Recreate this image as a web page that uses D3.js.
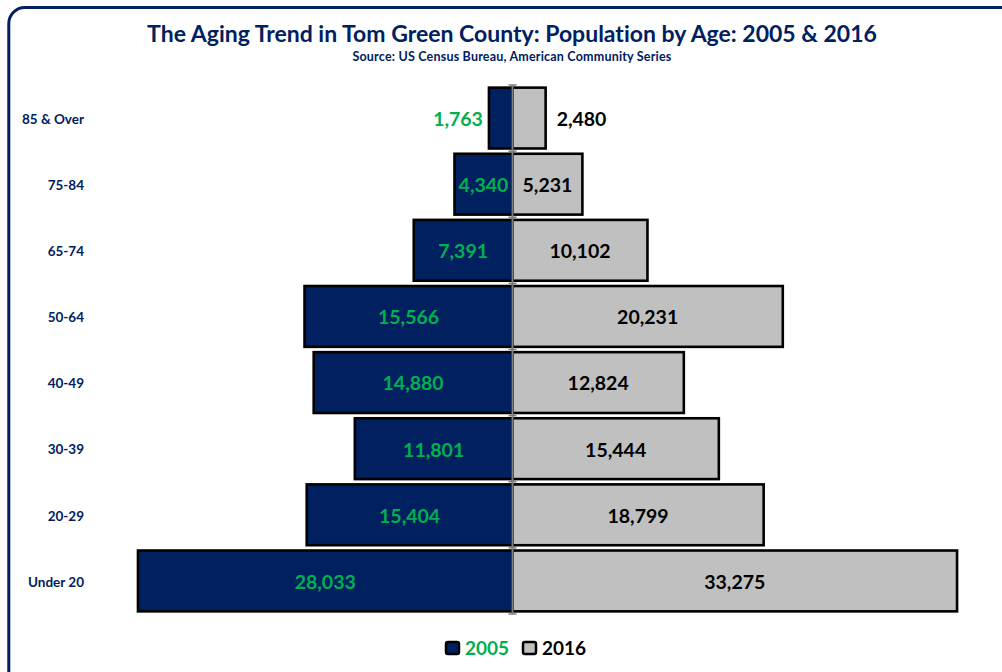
<!DOCTYPE html>
<html><head><meta charset="utf-8">
<script src="https://cdn.jsdelivr.net/npm/d3@7"></script>
<style>
html,body{margin:0;padding:0;background:#fff;}
svg{display:block;font-family:Lato,"Open Sans",sans-serif;font-variant-ligatures:none;}
</style></head>
<body><svg id="chart" width="1002" height="672"></svg>
<script>
const ageGroups = ["85 & Over","75-84","65-74","50-64","40-49","30-39","20-29","Under 20"];
const pop2005 = [1763,4340,7391,15566,14880,11801,15404,28033];
const pop2016 = [2480,5231,10102,20231,12824,15444,18799,33275];
const seriesNames = ["2005","2016"];
const titleText = "The Aging Trend in Tom Green County: Population by Age: 2005 & 2016";
const subtitleText = "Source: US Census Bureau, American Community Series";

const navy = "#002060", grey = "#C0C0C0", green = "#00B050";
const svg = d3.select("#chart");
const fmt = d3.format(",");

// frame
svg.append("rect").attr("x",8.8).attr("y",7.5).attr("width",1010).attr("height",700)
  .attr("rx",16).attr("ry",16).attr("fill","none").attr("stroke",navy).attr("stroke-width",3);

svg.append("text").attr("x",512).attr("y",42).attr("text-anchor","middle")
  .attr("font-size",23).attr("font-weight","bold").attr("fill",navy).text(titleText);
svg.append("text").attr("x",512).attr("y",61).attr("text-anchor","middle")
  .attr("font-size",12.5).attr("letter-spacing",0.2).attr("font-weight","bold").attr("fill",navy).text(subtitleText);

const cx = 512.5;
const x = d3.scaleLinear().domain([-35000,35000]).range([cx-467.6, cx+467.6]);
const y = d3.scaleBand().domain(ageGroups).range([85,614]).paddingInner(0.08).paddingOuter(0.04);

const rows = ageGroups.map((g,i)=>({g, a:pop2005[i], b:pop2016[i]}));

// category labels
svg.append("g").selectAll("text").data(rows).join("text")
  .attr("x",84).attr("y",d=>y(d.g)+y.bandwidth()/2+1).attr("dy","0.35em")
  .attr("text-anchor","end").attr("font-size",13.5).attr("font-weight","bold").attr("fill",navy)
  .text(d=>d.g);

// bars
const bars = svg.append("g");
bars.selectAll("rect.l").data(rows).join("rect").attr("class","l")
  .attr("x",d=>x(-d.a)).attr("width",d=>x(0)-x(-d.a))
  .attr("y",d=>y(d.g)).attr("height",y.bandwidth())
  .attr("fill",navy).attr("stroke","#000").attr("stroke-width",2.6);
bars.selectAll("rect.r").data(rows).join("rect").attr("class","r")
  .attr("x",x(0)).attr("width",d=>x(d.b)-x(0))
  .attr("y",d=>y(d.g)).attr("height",y.bandwidth())
  .attr("fill",grey).attr("stroke","#000").attr("stroke-width",2.6);

// center axis
const ax = svg.append("g");
ax.append("line").attr("x1",cx).attr("x2",cx).attr("y1",85).attr("y2",614)
  .attr("stroke","#7f7f7f").attr("stroke-width",2);
const bounds = ageGroups.map(g=>y(g)-y.step()*y.paddingInner()/2).concat([614]);
ax.selectAll("line.t").data(bounds).join("line").attr("class","t")
  .attr("x1",cx-4).attr("x2",cx+4).attr("y1",d=>d).attr("y2",d=>d)
  .attr("stroke","#7f7f7f").attr("stroke-width",1.5);

// value labels
const lab = svg.append("g").attr("font-size",19.5).attr("font-weight","bold");
rows.forEach(d=>{
  const yc = y(d.g)+y.bandwidth()/2+1;
  const wl = x(0)-x(-d.a), wr = x(d.b)-x(0);
  const tl = lab.append("text").attr("y",yc).attr("dy","0.35em").attr("fill",green).text(fmt(d.a));
  if (wl > 50) tl.attr("x",x(-d.a/2)).attr("text-anchor","middle");
  else tl.attr("x",x(-d.a)-6).attr("text-anchor","end");
  const tr = lab.append("text").attr("y",yc).attr("dy","0.35em").attr("fill","#000").text(fmt(d.b));
  if (wr > 50) tr.attr("x",x(d.b/2)).attr("text-anchor","middle");
  else tr.attr("x",x(d.b)+11).attr("text-anchor","start");
});

// legend
const leg = svg.append("g").attr("font-size",19).attr("font-weight","bold");
const legItems = [{n:seriesNames[0],fill:navy,tc:green,x:446},{n:seriesNames[1],fill:grey,tc:"#000",x:523}];
legItems.forEach(it=>{
  leg.append("rect").attr("x",it.x).attr("y",642).attr("width",13).attr("height",12).attr("rx",2)
    .attr("fill",it.fill).attr("stroke","#000").attr("stroke-width",2.5);
  leg.append("text").attr("x",it.x+19).attr("y",648).attr("dy","0.35em").attr("fill",it.tc).text(it.n);
});
</script></body></html>
